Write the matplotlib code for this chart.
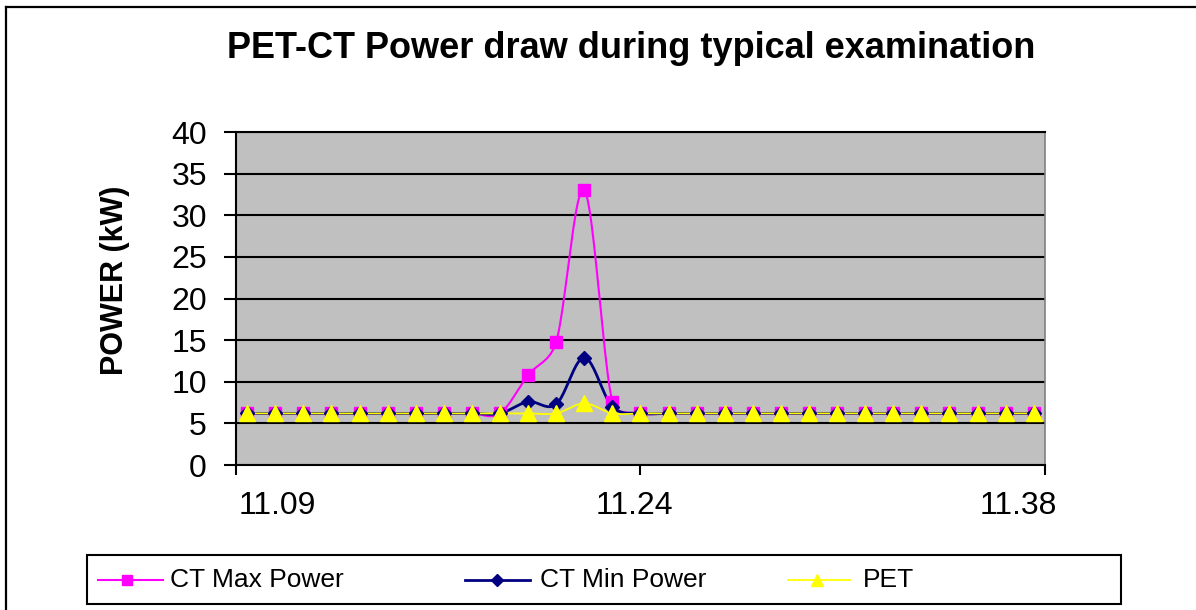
import numpy as np
import matplotlib
matplotlib.use("Agg")
import matplotlib.pyplot as plt
from matplotlib.lines import Line2D
from matplotlib.patches import Rectangle

plt.rcParams['font.family'] = ['Liberation Sans', 'DejaVu Sans']

# one sample per minute, 29 samples
series_names = ['CT Max Power', 'CT Min Power', 'PET']
ct_max = [6.2, 6.2, 6.2, 6.2, 6.2, 6.2, 6.2, 6.2, 6.2, 6.2,
          10.8, 14.8, 33.0, 7.6, 6.2, 6.2, 6.2, 6.2, 6.2, 6.2,
          6.2, 6.2, 6.2, 6.2, 6.2, 6.2, 6.2, 6.2, 6.2]
ct_min = [6.2, 6.2, 6.2, 6.2, 6.2, 6.2, 6.2, 6.2, 6.2, 6.2,
          7.6, 7.3, 12.9, 7.0, 6.2, 6.2, 6.2, 6.2, 6.2, 6.2,
          6.2, 6.2, 6.2, 6.2, 6.2, 6.2, 6.2, 6.2, 6.2]
pet = [6.2, 6.2, 6.2, 6.2, 6.2, 6.2, 6.2, 6.2, 6.2, 6.2,
       6.2, 6.2, 7.4, 6.2, 6.2, 6.2, 6.2, 6.2, 6.2, 6.2,
       6.2, 6.2, 6.2, 6.2, 6.2, 6.2, 6.2, 6.2, 6.2]
time_labels = ['11.09', '11.24', '11.38']
label_pos = [1.07, 13.77, 27.44]

colors = ['#FF00FF', '#000080', '#FFFF00']
markers = ['s', 'D', '^']
msizes = [9, 7.5, 11]
lws = [1.5, 2.0, 1.3]

# approximate screen scale (px per x step, px per kW) used for smoothing
SX, SY = 28.1, 8.33


def smooth(ys, n=24):
    # excel-like smoothed line: bezier segments, handles capped by segment length
    xs = np.arange(len(ys), dtype=float) * SX
    ys = np.asarray(ys, dtype=float) * SY
    p = np.column_stack([xs, ys])
    p = np.vstack([p[:1], p, p[-1:]])
    t = np.linspace(0, 1, n)[:, None]
    out = []
    for i in range(1, len(p) - 2):
        p0, p1, p2, p3 = p[i - 1], p[i], p[i + 1], p[i + 2]
        d12 = np.hypot(*(p2 - p1))
        d02 = np.hypot(*(p2 - p0))
        d13 = np.hypot(*(p3 - p1))
        f1 = 1 / 6 if d02 == 0 else min(1 / 6, d12 / (2 * d02))
        f2 = 1 / 6 if d13 == 0 else min(1 / 6, d12 / (2 * d13))
        b1 = p1 + f1 * (p2 - p0)
        b2 = p2 - f2 * (p3 - p1)
        seg = ((1 - t) ** 3) * p1 + 3 * ((1 - t) ** 2) * t * b1 + 3 * (1 - t) * t ** 2 * b2 + t ** 3 * p2
        out.append(seg)
    out = np.vstack(out)
    return out[:, 0] / SX, out[:, 1] / SY


fig = plt.figure(figsize=(11.96, 6.10), dpi=100)
ax = fig.add_axes([0.1973, 0.2377, 0.6764, 0.5459])
ax.set_facecolor('#C0C0C0')

for vals, c, m, ms, lw in zip([ct_max, ct_min, pet], colors, markers, msizes, lws):
    sx, sy = smooth(vals)
    ax.plot(sx, sy, color=c, lw=lw, zorder=3)
    ax.plot(np.arange(len(vals)), vals, ls='none', marker=m, ms=ms,
            color=c, mec=c, zorder=4)

ax.set_xlim(-0.4, 28.4)
ax.set_ylim(0, 40)
ax.set_yticks(np.arange(0, 41, 5))
ax.yaxis.grid(True, color='black', lw=1.5)
ax.set_axisbelow(True)
ax.tick_params(axis='y', direction='out', length=9, width=1.5, pad=12, labelsize=23)

ax.set_xticks([-0.4, 14, 28.4])
ax.set_xticklabels([])
ax.tick_params(axis='x', which='major', direction='out', length=7, width=1.5)
ax.set_xticks(label_pos, minor=True)
ax.set_xticklabels(time_labels, minor=True)
ax.tick_params(axis='x', which='minor', length=0, pad=19, labelsize=23)

for side in ['left', 'bottom', 'top']:
    ax.spines[side].set_color('black')
    ax.spines[side].set_linewidth(1.5)
ax.spines['right'].set_color('#808080')
ax.spines['right'].set_linewidth(1.2)

fig.text(631 / 1196, 1 - 49 / 610, 'PET-CT Power draw during typical examination',
         ha='center', va='center', fontsize=26, fontweight='bold')
fig.text(115 / 1196, 1 - 280 / 610, 'POWER (kW)', rotation=90,
         ha='center', va='center', fontsize=22, fontweight='bold')

# outer chart frame (left and top edges visible)
fig.add_artist(Line2D([6 / 1196, 6 / 1196], [0, 1 - 7 / 610], color='black', lw=1.6))
fig.add_artist(Line2D([6 / 1196, 1], [1 - 7 / 610, 1 - 7 / 610], color='black', lw=1.6))

# legend box
fig.add_artist(Rectangle((87 / 1196, 1 - 604 / 610), 1034 / 1196, 49 / 610,
                         transform=fig.transFigure, fill=False, ec='black', lw=1.5))
ly = 1 - 580 / 610
entries = [(98, 163, 127, 170), (465, 530, 497, 540), (788, 850, 817, 863)]
for (x0, x1, xm, xt), name, c, m, ms, lw in zip(entries, series_names, colors, markers, msizes, lws):
    fig.add_artist(Line2D([x0 / 1196, x1 / 1196], [ly, ly], color=c, lw=lw))
    fig.add_artist(Line2D([xm / 1196], [ly], marker=m, ms=ms * 0.85, color=c, mec=c, ls='none'))
    fig.text(xt / 1196, ly, name, ha='left', va='center', fontsize=19)

fig.savefig('out.png', dpi=100)
